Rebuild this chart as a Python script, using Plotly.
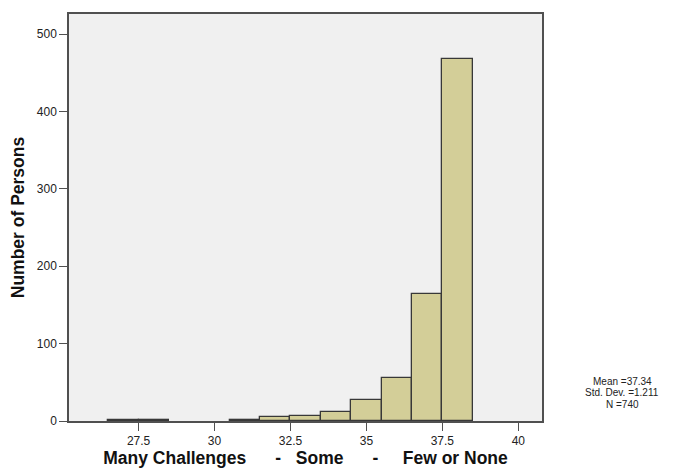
import plotly.graph_objects as go

# Data (bin centers, width 1)
bin_centers = [27, 28, 31, 32, 33, 34, 35, 36, 37, 38]
counts = [1, 1, 1, 5, 6, 11, 27, 56, 164, 468]
x_tick_vals = [27.5, 30, 32.5, 35, 37.5, 40]
x_tick_text = ["27.5", "30", "32.5", "35", "37.5", "40"]
y_tick_vals = [0, 100, 200, 300, 400, 500]
stats_lines = ["Mean =37.34", "Std. Dev. =1.211", "N =740"]

NB = "\u00a0"
x_title = ("Many Challenges" + NB * 6 + "-" + NB * 3 + "Some" + NB * 6 + "-"
           + NB * 5 + "Few or None")

FONT = "Liberation Sans, Arial, sans-serif"

# page body has an 8px margin: figure origin is at (8, 8) in the window
W, H = 675, 465
L, R, T, B = 58, 141, 4, 52
plot_w = W - L - R
plot_h = H - T - B

fig = go.Figure()
fig.add_trace(go.Bar(
    x=bin_centers, y=counts, width=1,
    marker=dict(color="#d3ce98", line=dict(color="#383838", width=1.3)),
    hoverinfo="x+y",
))

axis_common = dict(
    showline=True, linecolor="#505050", linewidth=1.5, mirror=True,
    ticks="outside", ticklen=8, tickcolor="#505050", tickwidth=1.2,
    showgrid=False, zeroline=False,
    tickfont=dict(family=FONT, size=12, color="#222222"),
)

stat_y_px = [381, 392.5, 404]  # window coordinates
annotations = []
for txt, ypx in zip(stats_lines, stat_y_px):
    annotations.append(dict(
        xref="paper", yref="paper",
        x=((623 - 8) - L) / plot_w,
        y=1 - ((ypx - 8) - T) / plot_h,
        xanchor="center", yanchor="middle", showarrow=False,
        text=txt, font=dict(family=FONT, size=10, color="#222222"),
    ))

fig.update_layout(
    width=W, height=H,
    margin=dict(l=L, r=R, t=T, b=B),
    paper_bgcolor="white", plot_bgcolor="#f0f0f0",
    showlegend=False, bargap=0,
    xaxis=dict(
        range=[25.21, 40.78], tickvals=x_tick_vals, ticktext=x_tick_text,
        title=dict(text=x_title, standoff=5,
                   font=dict(family=FONT, size=17.5, color="#111111", weight="bold")),
        **axis_common,
    ),
    yaxis=dict(
        range=[0, 526], tickvals=y_tick_vals,
        title=dict(text="Number of Persons", standoff=13,
                   font=dict(family=FONT, size=17.5, color="#111111", weight="bold")),
        **axis_common,
    ),
    annotations=annotations,
)

fig.write_html("out.html")
